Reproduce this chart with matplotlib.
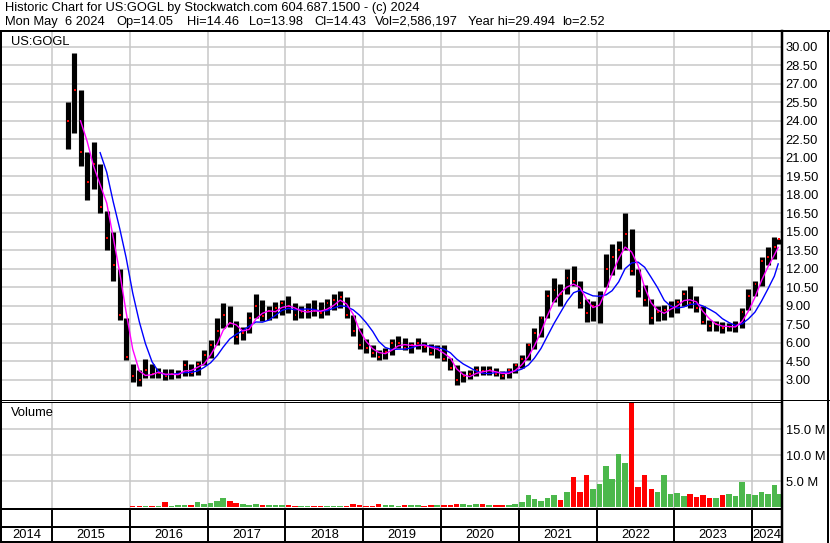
import numpy as np
import pandas as pd
import matplotlib
matplotlib.use("Agg")
import matplotlib.pyplot as plt
import matplotlib.dates as mdates
from matplotlib.lines import Line2D

plt.rcParams['font.family'] = ['Liberation Sans', 'DejaVu Sans']

W, H = 830, 543

# monthly bars, Mar 2015 .. May 2024
high = [25.5, 29.5, 26.5, 21.5, 22.3, 20.5, 16.7, 15.0, 12.0, 8.0,
        4.3, 3.8, 4.7, 4.3, 4.0, 3.9, 3.9, 3.8, 4.6, 4.3, 4.5, 5.4,
        6.2, 8.0, 9.2, 9.0, 7.8, 7.3, 8.5, 10.0, 9.5, 9.0, 9.3, 9.5,
        9.8, 9.2, 9.0, 9.2, 9.5, 9.3, 9.6, 10.0, 10.2, 9.7, 8.3, 7.2,
        6.3, 5.8, 5.4, 5.6, 6.3, 6.6, 6.4, 6.1, 6.4, 6.1, 5.9, 5.8,
        5.8, 4.8, 4.2, 3.7, 3.8, 4.1, 4.1, 4.1, 4.0, 3.7, 4.0, 4.4,
        5.0, 6.0, 7.2, 8.2, 10.3, 11.3, 10.8, 12.0, 12.2, 11.0, 9.6, 9.4,
        10.2, 13.2, 14.0, 14.3, 16.5, 15.2, 12.0, 10.7, 9.6, 9.0, 9.1, 9.4,
        9.6, 10.3, 10.6, 9.8, 9.0, 7.9, 7.8, 7.7, 7.6, 7.8, 8.8, 10.4,
        11.0, 13.0, 13.8, 14.6, 14.46]
low = [21.7, 23.0, 20.3, 17.6, 18.5, 16.5, 13.5, 11.0, 7.9, 4.6,
       2.8, 2.52, 3.2, 3.2, 3.2, 3.0, 3.1, 3.2, 3.3, 3.3, 3.4, 4.2,
       4.8, 5.8, 7.2, 7.3, 5.9, 6.2, 6.8, 8.0, 7.8, 7.9, 8.0, 8.3,
       8.4, 7.9, 8.0, 8.0, 8.2, 8.0, 8.3, 8.7, 8.8, 8.0, 6.6, 5.5,
       5.2, 4.9, 4.6, 4.7, 5.0, 5.6, 5.4, 5.2, 5.5, 5.3, 5.0, 4.8,
       4.5, 3.8, 2.6, 2.8, 3.1, 3.3, 3.4, 3.4, 3.3, 3.1, 3.2, 3.6,
       4.0, 4.6, 5.5, 6.5, 8.0, 9.3, 9.0, 10.0, 10.6, 8.8, 7.7, 7.8,
       7.6, 10.5, 11.5, 12.0, 13.5, 11.5, 9.7, 9.0, 7.5, 7.8, 7.9, 8.1,
       8.4, 9.0, 8.8, 8.5, 7.5, 7.0, 7.0, 6.8, 7.0, 6.9, 7.2, 8.7,
       9.8, 10.6, 12.3, 12.8, 13.98]
close = [24.0, 26.5, 21.5, 19.0, 20.5, 17.0, 14.5, 12.3, 8.3, 4.9,
         3.3, 3.0, 3.8, 3.5, 3.6, 3.3, 3.5, 3.5, 4.2, 3.6, 4.3, 5.0,
         5.8, 7.0, 8.3, 7.6, 6.5, 6.8, 8.0, 9.0, 8.2, 8.6, 8.8, 9.2,
         9.0, 8.3, 8.5, 8.7, 8.6, 8.4, 9.2, 9.5, 9.7, 8.3, 7.0, 5.8,
         5.6, 5.2, 4.9, 5.3, 6.0, 6.0, 5.6, 5.8, 6.0, 5.7, 5.2, 5.6,
         4.7, 4.0, 3.0, 3.3, 3.5, 3.8, 3.7, 3.8, 3.5, 3.3, 3.8, 4.2,
         4.7, 5.8, 6.8, 8.0, 9.8, 10.3, 10.0, 11.3, 11.0, 9.2, 8.4, 9.0,
         9.8, 12.0, 13.0, 13.5, 14.8, 11.8, 10.2, 9.5, 8.0, 8.5, 8.7, 9.0,
         9.3, 10.0, 9.2, 8.8, 7.7, 7.4, 7.5, 7.2, 7.3, 7.4, 8.5, 9.8,
         10.8, 12.6, 13.0, 13.8, 14.43]
# volume in millions of shares
volume = [0.05, 0.1, 0.1, 0.05, 0.05, 0.05, 0.1, 0.05, 0.1, 0.1,
          0.2, 0.3, 0.3, 0.2, 0.3, 1.0, 0.3, 0.4, 0.5, 0.4, 1.0, 0.6,
          0.9, 1.2, 1.9, 1.3, 0.8, 0.6, 0.5, 0.6, 0.5, 0.4, 0.5, 0.5,
          0.4, 0.3, 0.3, 0.3, 0.3, 0.3, 0.3, 0.3, 0.3, 0.3, 0.6, 0.4,
          0.3, 0.3, 0.7, 0.5, 0.4, 0.3, 0.5, 0.4, 0.4, 0.3, 0.4, 0.4,
          0.4, 0.4, 0.6, 0.7, 0.5, 0.6, 0.6, 0.5, 0.4, 0.4, 0.5, 0.6,
          1.0, 2.3, 1.6, 1.3, 1.8, 2.4, 1.5, 3.0, 5.8, 3.0, 6.3, 3.5,
          4.5, 7.9, 5.5, 10.2, 8.5, 20.5, 4.0, 6.3, 3.5, 3.0, 6.2, 2.5,
          2.8, 2.2, 2.5, 2.0, 2.4, 1.8, 1.9, 2.3, 2.6, 2.2, 4.8, 2.5,
          2.4, 3.0, 2.6, 4.4, 2.6]

price_ticks = [3.0, 4.5, 6.0, 7.5, 9.0, 10.5, 12.0, 13.5, 15.0, 16.5,
               18.0, 19.5, 21.0, 22.5, 24.0, 25.5, 27.0, 28.5, 30.0]
volume_ticks = [5, 10, 15]
volume_labels = ['5.0 M', '10.0 M', '15.0 M']
years = list(range(2014, 2025))

header1 = "Historic Chart for US:GOGL by Stockwatch.com 604.687.1500 - (c) 2024"
header2 = ["Mon May  6 2024", "Op=14.05", "Hi=14.46", "Lo=13.98", "Cl=14.43",
           "Vol=2,586,197", "Year hi=29.494", "lo=2.52"]
header2_px = [5, 116, 187, 249, 314, 375, 468, 562]

dates = list(pd.date_range('2015-03-01', '2024-05-01', freq='MS') + pd.Timedelta(days=14))
dates[-1] = pd.Timestamp('2024-05-03')
x = mdates.date2num(dates)

ma_short = pd.Series(close).rolling(3).mean()
ma_long = pd.Series(close).rolling(6).mean()
chg = np.diff(np.r_[close[0], close])
vcol = ['#ff0000' if c < 0 else '#4cb84c' for c in chg]

# x range: 2015 boundary at px 52, 2024 at px 752
bounds = mdates.date2num([pd.Timestamp(f'{y}-01-01') for y in years[1:]])
per_px = (bounds[-1] - bounds[0]) / 700.0
xmin = bounds[0] - 50 * per_px
xmax = bounds[-1] + 29 * per_px


def frac(x0, y0, x1, y1):
    return [x0 / W, 1 - y1 / H, (x1 - x0) / W, (y1 - y0) / H]


fig = plt.figure(figsize=(W / 100, H / 100), dpi=100)
fs = 9.3
grid_c = '#c8c8c8'

ax_p = fig.add_axes(frac(2, 32, 781, 399.5))
ax_v = fig.add_axes(frac(2, 402, 781, 508))
ax_t = fig.add_axes(frac(2, 509, 781, 526))
ax_y = fig.add_axes(frac(2, 527, 781, 541))

for ax in (ax_p, ax_v, ax_t, ax_y):
    ax.set_xlim(xmin, xmax)
    for s in ax.spines.values():
        s.set_visible(False)
    ax.set_xticks(bounds)
    ax.tick_params(axis='x', length=0, labelbottom=False)

# price panel
ax_p.set_ylim(1.42, 31.19)
ax_p.set_yticks(price_ticks)
ax_p.set_yticklabels([f'{t:.2f}' for t in price_ticks])
ax_p.yaxis.tick_right()
ax_p.tick_params(axis='y', length=0, pad=3.4, labelsize=fs)
ax_p.grid(True, color=grid_c, lw=1.1)
ax_p.set_axisbelow(True)
ax_p.vlines(x, low, high, color='black', lw=3.7)
ax_p.hlines(close, x - 2, x + 7, color='#ff0000', lw=1.4)
ax_p.plot(x, ma_long, color='#0000ff', lw=1.0)
ax_p.plot(x, ma_short, color='#ff00ff', lw=1.0)
ax_p.text(9 / 779, 0.973, 'US:GOGL', transform=ax_p.transAxes,
          fontsize=fs, va='center', ha='left')

# volume panel
ax_v.set_ylim(-0.1, 20.2)
ax_v.set_yticks(volume_ticks)
ax_v.set_yticklabels(volume_labels)
ax_v.yaxis.tick_right()
ax_v.tick_params(axis='y', length=0, pad=3.8, labelsize=fs)
ax_v.grid(True, color=grid_c, lw=1.1)
ax_v.set_axisbelow(True)
ax_v.bar(x, volume, width=26, color=vcol, align='center')
ax_v.text(9 / 779, 0.9, 'Volume', transform=ax_v.transAxes,
          fontsize=fs, va='center', ha='left')

# year rows
for ax in (ax_t, ax_y):
    ax.set_ylim(0, 1)
    ax.set_yticks([])
    ax.vlines(bounds, 0, 1, color='black', lw=1.4)
edges = np.r_[xmin, bounds, xmax]
for i, yr in enumerate(years):
    ax_y.text((edges[i] + edges[i + 1]) / 2, 0.45, str(yr), fontsize=fs,
              ha='center', va='center')


# frame lines (pixel coordinates)
def hline(y, x0, x1, lw):
    fig.add_artist(Line2D([x0 / W, x1 / W], [1 - y / H, 1 - y / H],
                          color='black', lw=lw * 0.72))


def vline(xp, y0, y1, lw):
    fig.add_artist(Line2D([xp / W, xp / W], [1 - y0 / H, 1 - y1 / H],
                          color='black', lw=lw * 0.72))


hline(31, 0, 830, 2)
hline(399.5, 0, 830, 1)
hline(402, 0, 781, 1)
hline(508.5, 0, 781, 2)
hline(526.5, 0, 781, 2)
hline(541.5, 0, 781, 2)
vline(1, 31, 543, 2)
vline(781.5, 31, 543, 2.5)
vline(828, 31, 543, 2)

fig.text(5 / W, 1 - 8 / H, header1, fontsize=fs, va='center', ha='left')
for item, px in zip(header2, header2_px):
    fig.text(px / W, 1 - 22 / H, item, fontsize=fs, va='center', ha='left')

fig.savefig('out.png', dpi=100)
